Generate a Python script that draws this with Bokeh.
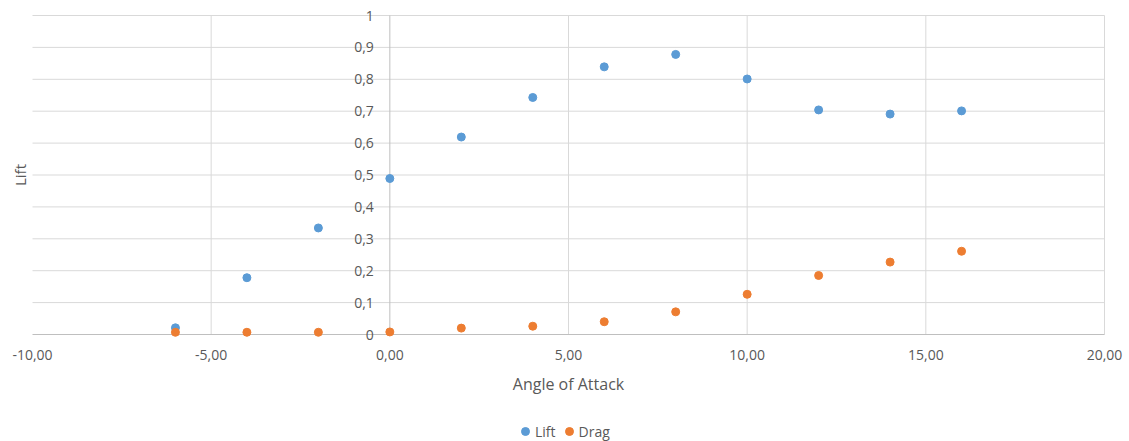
import math
from bokeh.plotting import figure
from bokeh.models import ColumnDataSource, Legend, LegendItem, Range1d
from bokeh.core.properties import value
from bokeh.embed import file_html
from bokeh.resources import INLINE

# Lift and drag coefficients vs angle of attack
angle = [-6, -4, -2, 0, 2, 4, 6, 8, 10, 12, 14, 16]
lift = [0.021, 0.178, 0.334, 0.489, 0.619, 0.743, 0.839, 0.878, 0.801, 0.704, 0.691, 0.701]
drag = [0.007, 0.007, 0.007, 0.008, 0.020, 0.026, 0.040, 0.071, 0.126, 0.185, 0.227, 0.261]

x_ticks = [-10, -5, 0, 5, 10, 15, 20]
y_ticks = [0, 0.1, 0.2, 0.3, 0.4, 0.5, 0.6, 0.7, 0.8, 0.9, 1.0]
x_tick_labels = [f"{v:.2f}".replace(".", ",") for v in x_ticks]
y_tick_labels = [f"{v:g}".replace(".", ",") for v in y_ticks]

FONT = "Open Sans"
TEXT = "#595959"
GRID = "#d9d9d9"
AXIS = "#bfbfbf"
BLUE = "#5b9bd5"
ORANGE = "#ed7d31"

W, H = 1129, 441
# plot-area margins inside the canvas (px)
LEFT, RIGHT, TOP, BOTTOM = 32, 25, 15, 107

x0, x1 = x_ticks[0], x_ticks[-1]
y0, y1 = y_ticks[0], y_ticks[-1]
xs = (x1 - x0) / (W - LEFT - RIGHT)
ys = (y1 - y0) / (H - TOP - BOTTOM)

# the frame spans the whole canvas so labels around the plot area are not clipped
p = figure(width=W, height=H, output_backend="svg", toolbar_location=None,
           x_range=Range1d(x0 - LEFT * xs, x1 + RIGHT * xs),
           y_range=Range1d(y0 - BOTTOM * ys, y1 + TOP * ys),
           x_axis_location=None, y_axis_location=None,
           min_border=0)
p.outline_line_color = None
p.xgrid.visible = False
p.ygrid.visible = False
p.background_fill_color = "white"
p.border_fill_color = "white"

# horizontal gridlines
hg = y_ticks[1:]
p.segment(x0=[x0] * len(hg), x1=[x1] * len(hg), y0=hg, y1=hg,
          line_color=GRID, line_width=1)
# vertical gridlines (x = -10 has none, x = 0 is the value axis)
vg = [v for v in x_ticks if v not in (x0, 0)]
p.segment(x0=vg, x1=vg, y0=[y0] * len(vg), y1=[y1] * len(vg),
          line_color=GRID, line_width=1)

# axis lines: category axis along y = 0, value axis crossing at x = 0
p.segment(x0=[x0, 0], x1=[x1, 0], y0=[y0, y0], y1=[y0, y1],
          line_color=AXIS, line_width=1)

# tick labels
p.text(x=[0] * len(y_ticks), y=y_ticks, text=y_tick_labels, x_offset=-16,
       text_align="right", text_baseline="middle",
       text_font=value(FONT), text_font_size="14px", text_color=TEXT)
p.text(x=x_ticks, y=[y0] * len(x_ticks), text=x_tick_labels, y_offset=20,
       text_align="center", text_baseline="middle",
       text_font=value(FONT), text_font_size="14px", text_color=TEXT)

# axis titles
p.text(x=[(x0 + x1) / 2], y=[y0], text=["Angle of Attack"], y_offset=49,
       text_align="center", text_baseline="middle",
       text_font=value(FONT), text_font_size="16px", text_color=TEXT)
p.text(x=[x0], y=[(y0 + y1) / 2], text=["Lift"], x_offset=-13, angle=math.pi / 2,
       text_align="center", text_baseline="middle",
       text_font=value(FONT), text_font_size="15px", text_color=TEXT)

src = ColumnDataSource(dict(angle=angle, lift=lift, drag=drag))
r_lift = p.scatter("angle", "lift", source=src, size=8, color=BLUE, line_color=BLUE)
r_drag = p.scatter("angle", "drag", source=src, size=8, color=ORANGE, line_color=ORANGE)

legend = Legend(items=[LegendItem(label="Lift", renderers=[r_lift]),
                       LegendItem(label="Drag", renderers=[r_drag])],
                orientation="horizontal", location=(515, 0),
                label_text_font=FONT, label_text_font_size="14px",
                label_text_color=TEXT, border_line_color=None,
                background_fill_alpha=0, glyph_width=20, glyph_height=20,
                label_standoff=0, spacing=3, padding=0, margin=0)
p.add_layout(legend)

open("out.html", "w").write(file_html(p, INLINE))
